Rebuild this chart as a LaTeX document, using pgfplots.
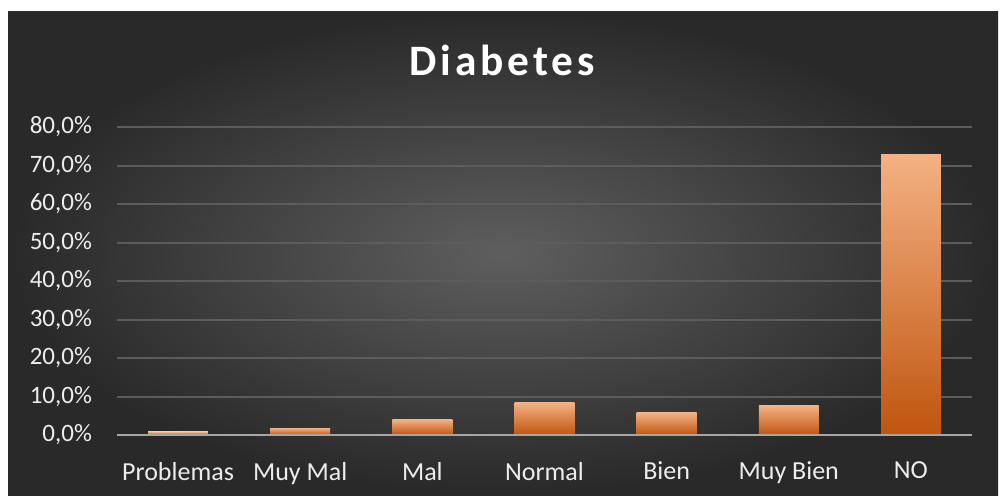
\documentclass[border=0pt]{standalone}
\usepackage{fontspec}
\setmainfont{Carlito}
\usepackage{pgfplots}
\pgfplotsset{compat=1.18}

\definecolor{gridc}{HTML}{5C5C5C}
\definecolor{axisc}{HTML}{A6A6A6}
\definecolor{labc}{HTML}{EDEDED}
\definecolor{bartop}{HTML}{F4B183}
\definecolor{barmid}{HTML}{ED7D31}
\definecolor{barbot}{HTML}{C0550F}

\begin{document}
\begin{tikzpicture}[x=1pt,y=1pt]
% page frame: white margin on the left and top, dark chart area
\fill[white] (0,0) rectangle (500,247.5);
\shade[inner color=black!63, outer color=black!84] (4,0) rectangle (499,242);

\node[anchor=base, text=white, font=\fontsize{21.7}{24}\selectfont\bfseries\addfontfeature{LetterSpace=9}]
  at (251,210) {Diabetes};

\begin{axis}[
    at={(58.5pt,30pt)}, anchor=south west,
    scale only axis,
    width=427.5pt, height=154pt,
    ymin=0, ymax=80,
    xmin=-0.5, xmax=6.5,
    ytick={0,10,...,80},
    yticklabels={0{,}0\%,10{,}0\%,20{,}0\%,30{,}0\%,40{,}0\%,50{,}0\%,60{,}0\%,70{,}0\%,80{,}0\%},
    xtick={0,...,6},
    xticklabels={Problemas,Muy Mal,Mal,Normal,Bien,Muy Bien,NO},
    ymajorgrids,
    grid style={gridc, line width=1pt},
    axis line style={draw=none},
    major tick length=0pt,
    tick label style={text=labc},
    yticklabel style={anchor=east, xshift=-9pt, font=\fontsize{12.5}{14}\selectfont},
    xticklabel style={anchor=north, yshift=-10pt, font=\fontsize{13}{15}\selectfont},
    ybar, bar width=0.49,
    every axis plot/.append style={bar shift=0pt, draw=none, shading=axis,
        top color=bartop, middle color=barmid, bottom color=barbot},
    clip=false,
]
% one plot per bar, so that each bar gets its own gradient
\addplot coordinates {(0,0.8)};
\addplot coordinates {(1,1.8)};
\addplot coordinates {(2,4.0)};
\addplot coordinates {(3,8.4)};
\addplot coordinates {(4,5.8)};
\addplot coordinates {(5,7.6)};
\addplot coordinates {(6,72.8)};
\draw[axisc, line width=1.2pt] (axis cs:-0.5,0) -- (axis cs:6.5,0);
\end{axis}
\end{tikzpicture}
\end{document}
